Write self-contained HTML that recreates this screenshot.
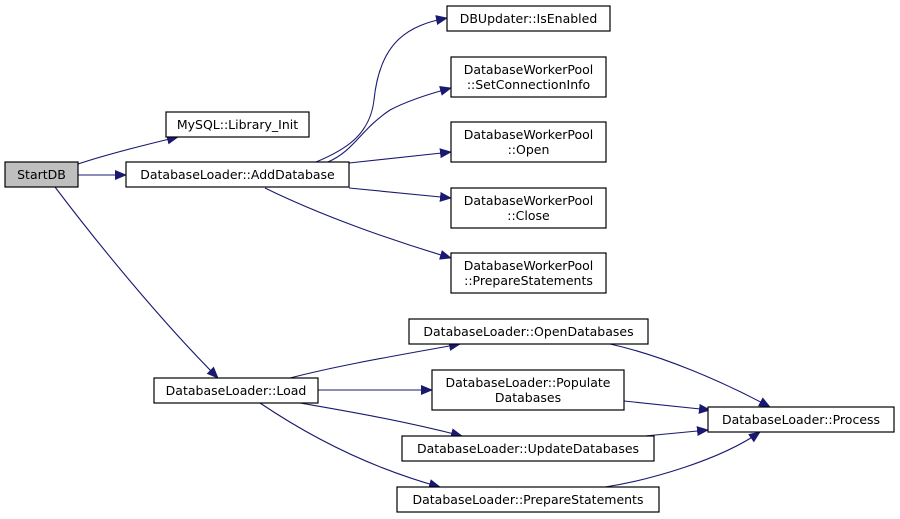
<!DOCTYPE html>
<html><head><meta charset="utf-8"><style>
html,body{margin:0;padding:0;background:#fff;}
svg{display:block;}
text{font-family:"DejaVu Sans","Liberation Sans",sans-serif;font-size:12.5px;fill:#000;}
.b{fill:#fff;stroke:#000;stroke-width:1.2;}
.e{fill:none;stroke:#191970;stroke-width:1.1;}
</style></head><body>
<svg width="900" height="519" viewBox="0 0 900 519" xmlns="http://www.w3.org/2000/svg">
<defs><marker id="a" markerWidth="12" markerHeight="10" refX="11" refY="5" orient="auto" markerUnits="userSpaceOnUse"><polygon points="0,0 12,5 0,10" fill="#191970"/></marker></defs>
<g class="e" marker-end="url(#a)">
<path d="M78,164 C105,155 140,146 178,137"/>
<path d="M78,175 L126,175"/>
<path d="M55,187 C95,240 160,320 218,378"/>
<path d="M316,162 C345,150 370,135 374,100 C380,40 410,25 447,18"/>
<path d="M328,162 C355,150 360,130 390,110 C405,102 425,95 451,88"/>
<path d="M349,163 L451,152"/>
<path d="M349,188 L451,198"/>
<path d="M265,188 C320,215 390,240 451,258"/>
<path d="M290,378 C340,365 400,355 460,344"/>
<path d="M318,390 L432,390"/>
<path d="M300,403 C340,410 400,420 462,436"/>
<path d="M260,403 C300,430 360,465 440,487"/>
<path d="M610,344 C660,355 720,380 770,407"/>
<path d="M624,401 L710,410"/>
<path d="M645,436 L708,430"/>
<path d="M605,487 C650,480 720,460 760,432"/>
</g>
<rect x="5" y="162" width="73" height="25" fill="#bfbfbf" stroke="#000" stroke-width="1.2"/>
<text x="41.5" y="179" text-anchor="middle">StartDB</text>
<rect class="b" x="166" y="112" width="143" height="25"/><text x="237.5" y="129" text-anchor="middle">MySQL::Library_Init</text>
<rect class="b" x="126" y="162" width="223" height="25"/><text x="237.5" y="179" text-anchor="middle">DatabaseLoader::AddDatabase</text>
<rect class="b" x="447" y="6" width="163" height="25"/><text x="528.5" y="23" text-anchor="middle">DBUpdater::IsEnabled</text>
<rect class="b" x="451" y="57" width="155" height="40"/><text x="528.5" y="74" text-anchor="middle">DatabaseWorkerPool</text><text x="528.5" y="89" text-anchor="middle">::SetConnectionInfo</text>
<rect class="b" x="451" y="122" width="155" height="40"/><text x="528.5" y="139" text-anchor="middle">DatabaseWorkerPool</text><text x="528.5" y="154" text-anchor="middle">::Open</text>
<rect class="b" x="451" y="188" width="155" height="40"/><text x="528.5" y="205" text-anchor="middle">DatabaseWorkerPool</text><text x="528.5" y="220" text-anchor="middle">::Close</text>
<rect class="b" x="451" y="253" width="155" height="40"/><text x="528.5" y="270" text-anchor="middle">DatabaseWorkerPool</text><text x="528.5" y="285" text-anchor="middle">::PrepareStatements</text>
<rect class="b" x="154" y="378" width="164" height="25"/><text x="236" y="395" text-anchor="middle">DatabaseLoader::Load</text>
<rect class="b" x="409" y="319" width="239" height="25"/><text x="528.5" y="336" text-anchor="middle">DatabaseLoader::OpenDatabases</text>
<rect class="b" x="432" y="370" width="192" height="40"/><text x="528" y="387" text-anchor="middle">DatabaseLoader::Populate</text><text x="528" y="402" text-anchor="middle">Databases</text>
<rect class="b" x="402" y="436" width="252" height="25"/><text x="528" y="453" text-anchor="middle">DatabaseLoader::UpdateDatabases</text>
<rect class="b" x="397" y="487" width="262" height="25"/><text x="528" y="504" text-anchor="middle">DatabaseLoader::PrepareStatements</text>
<rect class="b" x="708" y="407" width="186" height="25"/><text x="801" y="424" text-anchor="middle">DatabaseLoader::Process</text>
</svg>
</body></html>
